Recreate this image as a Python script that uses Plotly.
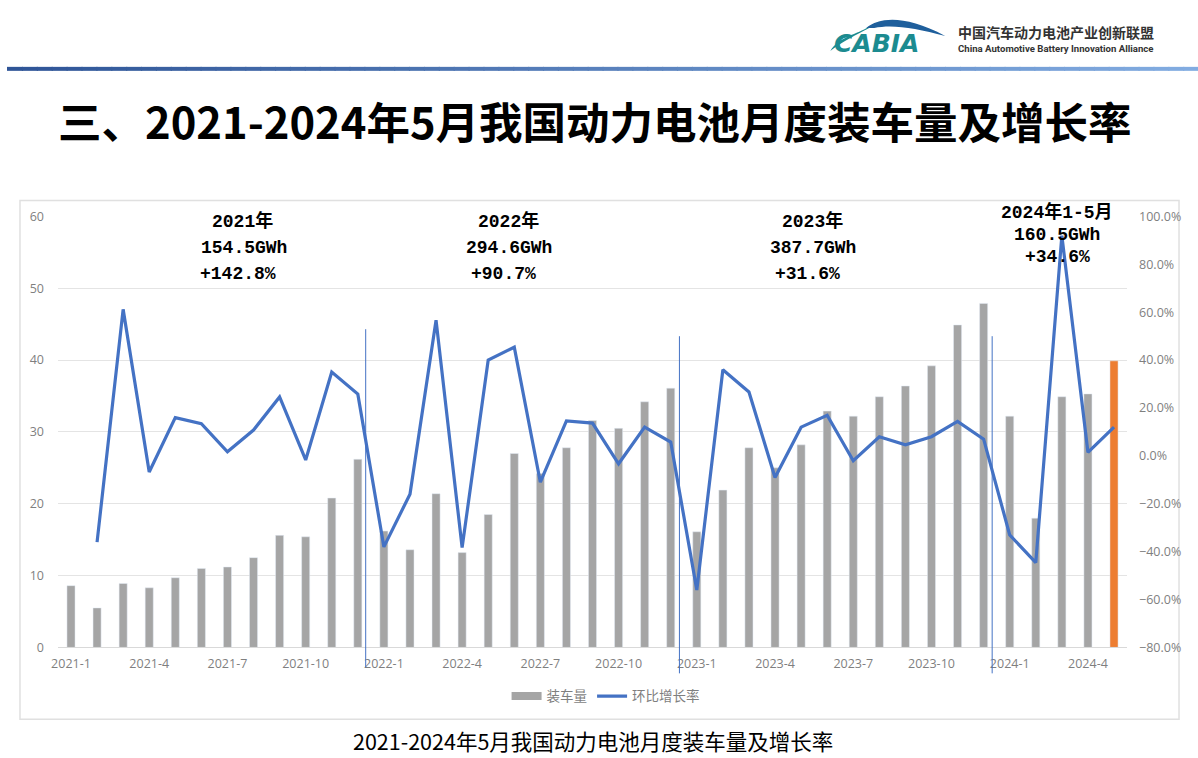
import plotly.graph_objects as go

W, H = 1198, 758

months = ["2021-1","2021-2","2021-3","2021-4","2021-5","2021-6","2021-7","2021-8","2021-9","2021-10","2021-11","2021-12",
          "2022-1","2022-2","2022-3","2022-4","2022-5","2022-6","2022-7","2022-8","2022-9","2022-10","2022-11","2022-12",
          "2023-1","2023-2","2023-3","2023-4","2023-5","2023-6","2023-7","2023-8","2023-9","2023-10","2023-11","2023-12",
          "2024-1","2024-2","2024-3","2024-4","2024-5"]
tick_labels = ["2021-1","2021-4","2021-7","2021-10","2022-1","2022-4","2022-7","2022-10",
               "2023-1","2023-4","2023-7","2023-10","2024-1","2024-4"]
volume = [8.6,5.5,8.9,8.3,9.7,11.0,11.2,12.5,15.6,15.4,20.8,26.2,
          16.2,13.6,21.4,13.2,18.5,27.0,24.2,27.8,31.6,30.5,34.2,36.1,
          16.1,21.9,27.8,25.0,28.2,32.9,32.2,34.9,36.4,39.2,44.9,47.9,
          32.2,18.0,34.9,35.3,39.9]
growth = [None,-36,61.2,-6.7,16,13.5,1.7,10.8,24.6,-1.7,35,25.8,
          -38,-16,56.7,-38.3,40,45.4,-11,14.6,13.7,-3.3,12,5.8,
          -56,36,26.7,-9,12,17,-2,8,4.6,8,14.4,7,
          -33,-44.6,92,1.5,12]
bar_colors = ["#a5a5a5"] * 40 + ["#ed7d31"]

# year summary text: text, centre x px, y px
year_notes = [("2021年",242,221),("154.5GWh",243,248),("+142.8%",237,274),
              ("2022年",508,221),("294.6GWh",508,248),("+90.7%",503,274),
              ("2023年",812,221),("387.7GWh",813,248),("+31.6%",807,274),
              ("2024年1-5月",1057,212),("160.5GWh",1057,235),("+34.6%",1057,257)]
dividers = [(365,329,668),(679,336,674),(992,336,674)]

CJK = "Noto Sans CJK SC"
MONO = "Liberation Mono, Noto Sans CJK SC"
GREY = "#7f7f7f"


# the returned picture sits slightly inset, these undo that
def px(x):
    return (x - 6) / 0.995 / W


def py(y):
    return 1 - (y - 8) / 0.98 / H


def path(points):
    # pixel path -> paper path
    out = []
    for p in points:
        if isinstance(p, str):
            out.append(p)
        else:
            out.append(f"{px(p[0]):.5f},{py(p[1]):.5f}")
    return " ".join(out)


fig = go.Figure()
fig.add_trace(go.Bar(x=months, y=volume, marker=dict(color=bar_colors), showlegend=False, yaxis="y"))
fig.add_trace(go.Scatter(x=[months[0]], y=[None], mode="lines", name="装车量",
                         line=dict(color="#a5a5a5", width=8), yaxis="y"))
fig.add_trace(go.Scatter(x=months, y=growth, mode="lines", name="环比增长率",
                         line=dict(color="#4472c4", width=3.2), yaxis="y2"))

shapes = []
# chart frame
shapes.append(dict(type="rect", xref="paper", yref="paper", x0=px(19), x1=px(1179), y0=py(720), y1=py(200),
                   line=dict(color="#e0e0e0", width=1.5), layer="below"))
# header rule, dark blue to light blue
n = 80
c0, c1 = (47, 85, 151), (130, 172, 225)
for i in range(n):
    t = i / (n - 1)
    col = "rgb(%d,%d,%d)" % tuple(round(a + (b - a) * t) for a, b in zip(c0, c1))
    shapes.append(dict(type="rect", xref="paper", yref="paper", x0=i / n, x1=min((i + 1) / n + 0.001, 1),
                       y0=py(70), y1=py(66), line=dict(width=0), fillcolor=col))
# logo roof swoosh
shapes.append(dict(type="path", xref="paper", yref="paper", fillcolor="#1c8b90", line=dict(width=0),
                   path=path(["M", (830, 50), "C", (838, 36), (858, 33), (868, 26), "L", (880, 20), "C", (870, 28), (848, 36), (830, 50), "Z"])))
shapes.append(dict(type="path", xref="paper", yref="paper", fillcolor="#1f5f9c", line=dict(width=0),
                   path=path(["M", (866, 27), "C", (880, 16), (905, 14), (945, 35), "C", (915, 27), (892, 23), (874, 27), "Z"])))
# dividers between years
for x, y0, y1 in dividers:
    shapes.append(dict(type="line", xref="paper", yref="paper", x0=px(x), x1=px(x), y0=py(y0), y1=py(y1),
                       line=dict(color="#4472c4", width=1)))

annotations = []


def note(text, x, y, size, color="#000000", family=CJK, weight="normal", style="normal"):
    annotations.append(dict(text=text, xref="paper", yref="paper", x=px(x), y=py(y), xanchor="center",
                            yanchor="middle", showarrow=False,
                            font=dict(size=size, color=color, family=family, weight=weight, style=style)))


note("三、2021-2024年5月我国动力电池月度装车量及增长率", 594, 120, 43.5, weight="bold")
note("2021-2024年5月我国动力电池月度装车量及增长率", 592, 741, 21.5)
note("CABIA", 876, 43, 25, color="#1c8b90", family="DejaVu Sans", weight="bold", style="italic")
note("中国汽车动力电池产业创新联盟", 1056, 31, 14, color="#333333", weight="bold")
note("China Automotive Battery Innovation Alliance", 1056, 48, 9.6, color="#333333", family="Roboto", weight="bold")
for text, x, y in year_notes:
    note(text, x, y, 18, family=MONO, weight="bold")

fig.update_layout(
    width=W, height=H, margin=dict(l=0, r=0, t=0, b=0), paper_bgcolor="white", plot_bgcolor="white",
    bargap=0.69,
    font=dict(family="Open Sans, Noto Sans CJK SC", color=GREY, size=12.5),
    xaxis=dict(type="category", categoryorder="array", categoryarray=months,
               domain=[px(57), px(1127)], range=[-0.5, 40.5],
               tickmode="array", tickvals=tick_labels, ticktext=tick_labels, tickangle=0,
               showgrid=False, showline=True, linecolor="#d9d9d9", ticks="", ticklabelstandoff=5),
    yaxis=dict(domain=[py(648), py(216)], range=[0, 60], dtick=10, gridcolor="#e4e4e4", gridwidth=1,
               zeroline=False, ticks="", ticklabelstandoff=13),
    yaxis2=dict(overlaying="y", side="right", range=[-80, 100], dtick=20, ticksuffix="%", tickformat=".1f",
                showgrid=False, zeroline=False, ticks="", ticklabelstandoff=11),
    legend=dict(orientation="h", x=px(506), y=py(697), xanchor="left", yanchor="middle", itemwidth=30,
                font=dict(family=CJK, size=13.5, color=GREY), bgcolor="rgba(0,0,0,0)"),
    shapes=shapes, annotations=annotations,
)

page_fix = """
document.documentElement.style.margin='0';
document.documentElement.style.overflow='hidden';
document.body.style.margin='0';
document.body.style.padding='0';
document.body.style.overflow='hidden';
"""
fig.write_html("out.html", config=dict(displayModeBar=False), post_script=page_fix)
